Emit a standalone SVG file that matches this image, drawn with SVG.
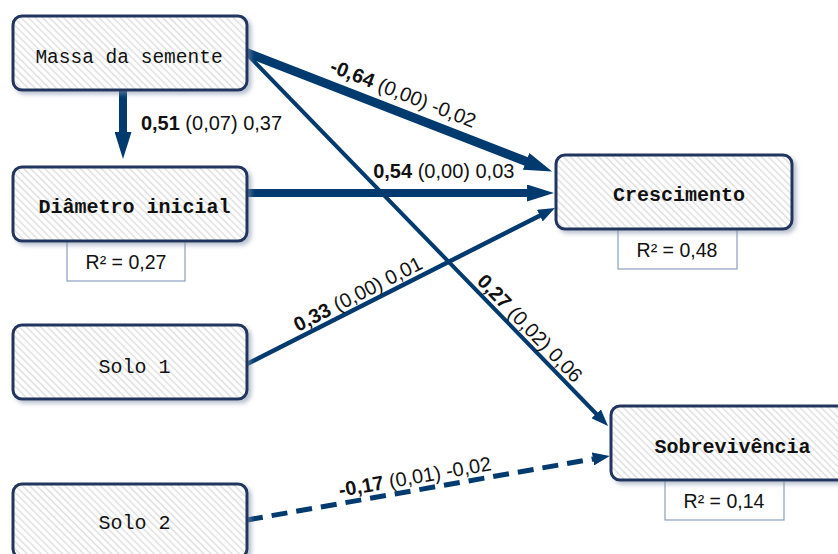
<svg xmlns="http://www.w3.org/2000/svg" width="838" height="554" viewBox="0 0 838 554">
<defs>
<style>
.node rect.box{fill:url(#hatch);stroke:#23365f;stroke-width:3;filter:url(#sh)}
.node text{font-family:"Liberation Mono","DejaVu Sans Mono",monospace;font-size:20px;fill:#111;text-anchor:middle}
.node text.b{font-weight:bold}
.r2 rect{fill:#fff;stroke:#8aa0bc;stroke-width:1.2}
.r2 text{font-family:"Liberation Sans",Arial,sans-serif;font-size:19.5px;fill:#111;text-anchor:middle}
.lbl{font-family:"Liberation Sans",Arial,sans-serif;font-size:20px;fill:#111;text-anchor:middle}
.lbl tspan.b{font-weight:bold}
.edge{fill:none;stroke:#003a6e}
</style>
<pattern id="hatch" patternUnits="userSpaceOnUse" width="5" height="5" patternTransform="rotate(-45)">
<rect width="5" height="5" fill="#ffffff"/>
<line x1="2.5" y1="0" x2="2.5" y2="5" stroke="#dcdcdc" stroke-width="1.4"/>
</pattern>
<filter id="sh" x="-10%" y="-20%" width="125%" height="150%">
<feDropShadow dx="3" dy="3" stdDeviation="2" flood-color="#7f8ea8" flood-opacity="0.55"/>
</filter>
<marker id="big" viewBox="0 -9 28 18" markerWidth="28" markerHeight="18" refX="1" refY="0" orient="auto" markerUnits="userSpaceOnUse">
<path d="M0,-9 L28,0 L0,9 z" fill="#003a6e"/>
</marker>
<marker id="bigv" viewBox="0 -8.5 27 17" markerWidth="27" markerHeight="17" refX="1" refY="0" orient="auto" markerUnits="userSpaceOnUse">
<path d="M0,-8.5 L27,0 L0,8.5 z" fill="#003a6e"/>
</marker>
<marker id="small" viewBox="0 -6.5 17 13" markerWidth="17" markerHeight="13" refX="1" refY="0" orient="auto" markerUnits="userSpaceOnUse">
<path d="M0,-6.5 L17,0 L0,6.5 z" fill="#003a6e"/>
</marker>
</defs>
<rect width="838" height="554" fill="#ffffff"/>

<g id="connectors">
<line class="edge" x1="245" y1="52" x2="527" y2="161.8" stroke-width="9" marker-end="url(#big)"/>
<line class="edge" x1="123" y1="90" x2="123" y2="133" stroke-width="8" marker-end="url(#bigv)"/>
<line class="edge" x1="247" y1="193" x2="528" y2="193" stroke-width="8" marker-end="url(#bigv)"/>
<line class="edge" x1="245" y1="52" x2="596.9" y2="414.5" stroke-width="4" marker-end="url(#small)"/>
<line class="edge" x1="247" y1="364" x2="540.7" y2="215.2" stroke-width="4.5" marker-end="url(#small)"/>
<line class="edge" x1="247" y1="520" x2="594" y2="458.8" stroke-width="5" stroke-dasharray="16 9" marker-end="url(#small)"/>
<text class="lbl" x="211.5" y="130"><tspan class="b">0,51</tspan> (0,07) 0,37</text>
<text class="lbl" x="443.8" y="178"><tspan class="b">0,54</tspan> (0,00) 0,03</text>
<text class="lbl" transform="translate(400.7,99.8) rotate(21.5)"><tspan class="b">-0,64</tspan> (0,00) -0,02</text>
<text class="lbl" transform="translate(525,333) rotate(46)"><tspan class="b">0,27</tspan> (0,02) 0,06</text>
<text class="lbl" transform="translate(361,300) rotate(-27)"><tspan class="b">0,33</tspan> (0,00) 0,01</text>
<text class="lbl" transform="translate(416,483.6) rotate(-10)"><tspan class="b">-0,17</tspan> (0,01) -0,02</text>
</g>

<g id="node-massa" class="node">
<rect class="box" x="13" y="16" width="234" height="74" rx="9"/>
<text x="129" y="63" style="font-size:19.5px">Massa da semente</text>
</g>

<g id="node-diametro" class="node">
<g class="r2"><rect x="67" y="241" width="118" height="40"/><text x="126" y="269">R² = 0,27</text></g>
<rect class="box" x="13" y="167" width="234" height="74" rx="9"/>
<text class="b" x="134.5" y="213">Diâmetro inicial</text>
</g>

<g id="node-solo1" class="node">
<rect class="box" x="13" y="325" width="234" height="74" rx="9"/>
<text x="134.5" y="373">Solo 1</text>
</g>

<g id="node-solo2" class="node">
<rect class="box" x="13" y="484" width="234" height="74" rx="9"/>
<text x="134.5" y="529">Solo 2</text>
</g>

<g id="node-crescimento" class="node">
<g class="r2"><rect x="618" y="229" width="119" height="40"/><text x="677" y="257">R² = 0,48</text></g>
<rect class="box" x="556" y="155" width="236" height="74" rx="9"/>
<text class="b" x="679" y="201">Crescimento</text>
</g>

<g id="node-sobrevivencia" class="node">
<g class="r2"><rect x="665" y="480" width="119" height="40"/><text x="724" y="508">R² = 0,14</text></g>
<rect class="box" x="611" y="406" width="236" height="74" rx="9"/>
<text class="b" x="732.5" y="453">Sobrevivência</text>
</g>
</svg>
